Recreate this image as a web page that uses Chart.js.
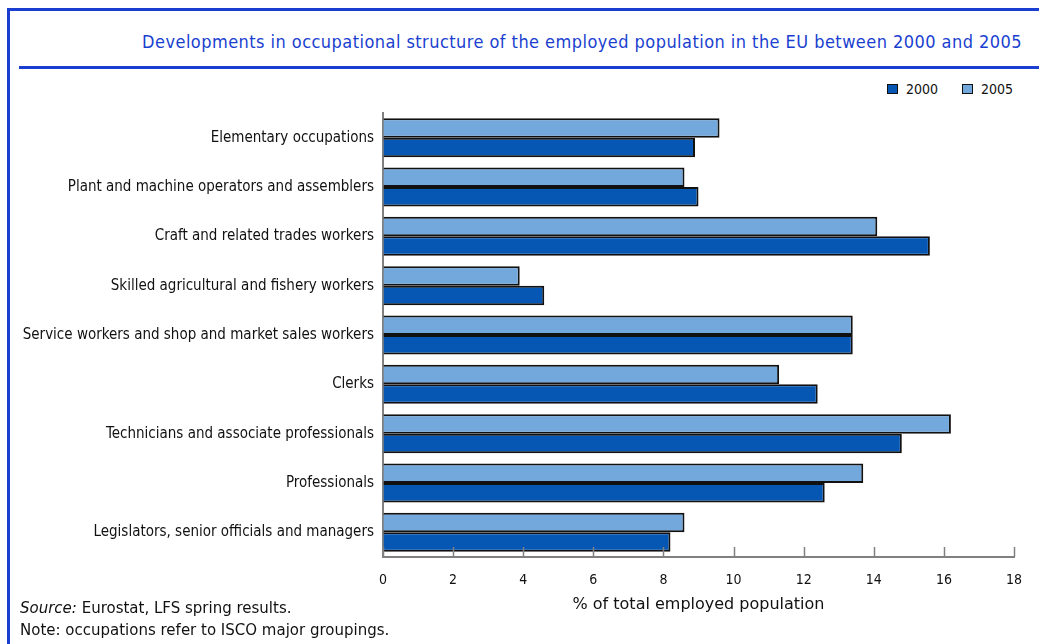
<!DOCTYPE html>
<html>
<head>
<meta charset="utf-8">
<script src="https://cdn.jsdelivr.net/npm/chart.js@4"></script>
<style>
  html, body { margin: 0; padding: 0; background: #fff; }
  body { width: 1039px; height: 644px; position: relative; overflow: hidden; }
  .frame-top { position: absolute; left: 7px; top: 8px; width: 1032px; height: 3px; background: #1a3fd0; }
  .frame-left { position: absolute; left: 7px; top: 8px; width: 3px; height: 636px; background: #1a3fd0; }
  .title-rule { position: absolute; left: 19px; top: 66px; width: 1020px; height: 3px; background: #1a3fd0; }
  .chart-title { position: absolute; right: 17px; top: 31px; font: 18px "DejaVu Sans Condensed", sans-serif; letter-spacing: 0.45px; color: #1a3fd0; white-space: nowrap; }
  .legend { position: absolute; top: 80px; left: 887px; font: 14px "DejaVu Sans Condensed", sans-serif; color: #111; }
  .legend span { display: inline-block; vertical-align: middle; }
  .legend .box { width: 9px; height: 8px; border: 1.5px solid #111; margin-right: 8px; }
  .legend .gap { width: 24px; }
  .source { position: absolute; left: 20px; top: 597px; font: 15px "DejaVu Sans", sans-serif; color: #111; line-height: 22px; }
  #wrap { position: absolute; left: 0; top: 95px; width: 1039px; height: 526px; }
</style>
</head>
<body>
<div class="frame-top"></div>
<div class="frame-left"></div>
<div class="chart-title">Developments in occupational structure of the employed population in the EU between 2000 and 2005</div>
<div class="title-rule"></div>
<div class="legend" id="legend"></div>
<div id="wrap"><canvas id="chart"></canvas></div>
<div class="source"><i>Source:</i> Eurostat, LFS spring results.<br>Note: occupations refer to ISCO major groupings.</div>

<script>
const categories = [
    'Elementary occupations',
    'Plant and machine operators and assemblers',
    'Craft and related trades workers',
    'Skilled agricultural and fishery workers',
    'Service workers and shop and market sales workers',
    'Clerks',
    'Technicians and associate professionals',
    'Professionals',
    'Legislators, senior officials and managers'
];
const values2000 = [8.9, 9.0, 15.6, 4.6, 13.4, 12.4, 14.8, 12.6, 8.2];
const values2005 = [9.6, 8.6, 14.1, 3.9, 13.4, 11.3, 16.2, 13.7, 8.6];
const xTicks = [0, 2, 4, 6, 8, 10, 12, 14, 16, 18];

const dark = '#0656b4';
const light = '#72a8dc';
const axisClr = '#808080';

// legend lists 2000 first, bars draw 2005 on top
document.getElementById('legend').innerHTML =
    `<span class="box" style="background:${dark}"></span><span>2000</span><span class="gap"></span>` +
    `<span class="box" style="background:${light}"></span><span>2005</span>`;

// tick marks point up into the plot, as in the original
const upTicks = {
    id: 'upTicks',
    afterDatasetsDraw(chart) {
        const x = chart.scales.x, ctx = chart.ctx, bottom = chart.chartArea.bottom;
        ctx.save();
        ctx.strokeStyle = axisClr; ctx.lineWidth = 1.5;
        xTicks.forEach(v => {
            const px = Math.round(x.getPixelForValue(v)) + 0.5;
            ctx.beginPath(); ctx.moveTo(px, bottom); ctx.lineTo(px, bottom - 10); ctx.stroke();
        });
        ctx.restore();
    }
};

new Chart(document.getElementById('chart'), {
    type: 'bar',
    data: {
        labels: categories,
        datasets: [
            { label: '2005', data: values2005, backgroundColor: light, borderColor: '#111', borderWidth: 2 },
            { label: '2000', data: values2000, backgroundColor: dark, borderColor: '#111', borderWidth: 2 }
        ]
    },
    options: {
        indexAxis: 'y',
        responsive: true,
        maintainAspectRatio: false,
        animation: false,
        layout: { padding: { top: 7, left: 0, right: 25, bottom: 0 } },
        datasets: { bar: { categoryPercentage: 0.79, barPercentage: 1 } },
        plugins: { legend: { display: false }, tooltip: { enabled: false } },
        scales: {
            x: {
                min: 0, max: 18,
                afterBuildTicks: s => { s.ticks = xTicks.map(v => ({ value: v })); },
                afterFit: s => { s.height = 64; },
                grid: { display: true, drawOnChartArea: false, drawTicks: false, color: axisClr },
                border: { color: axisClr, width: 2 },
                ticks: { padding: 15, color: '#111', font: { family: 'DejaVu Sans Condensed', size: 14 } },
                title: { display: true, text: '% of total employed population', color: '#111', padding: { top: 0, bottom: 7 }, font: { family: 'DejaVu Sans', size: 16 } }
            },
            y: {
                afterFit: s => { s.width = 383; },
                grid: { display: false, drawTicks: false },
                border: { color: axisClr, width: 2 },
                ticks: { padding: 9, color: '#111', font: { family: 'DejaVu Sans Condensed', size: 15 } }
            }
        }
    },
    plugins: [upTicks]
});
</script>
</body>
</html>
